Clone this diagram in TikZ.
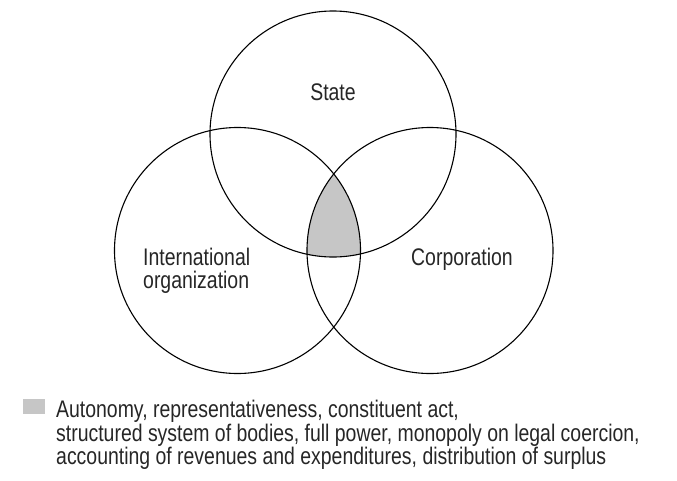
\documentclass[tikz,border=0pt]{standalone}
\usepackage{fontspec}
\setmainfont[FakeStretch=0.81]{Liberation Sans}
\begin{document}
\begin{tikzpicture}[x=1pt,y=-1pt,
  ring/.style={circle,draw=black,line width=1.1pt,minimum size=246pt,inner sep=0pt},
  lbl/.style={font=\fontsize{24}{23.5}\selectfont,inner sep=0pt,text=black!85},
  shade/.style={fill={rgb,255:red,198;green,198;blue,198}}]
\useasboundingbox (0,0) rectangle (677,480);
\coordinate (cS) at (333,134);
\coordinate (cI) at (237.5,250.5);
\coordinate (cC) at (430,250.5);
% shaded common region
\begin{scope}
  \clip (cS) circle (123);
  \clip (cI) circle (123);
  \fill[shade] (cC) circle (123);
\end{scope}
\node[ring] (state) at (cS) {};
\node[ring] (io) at (cI) {};
\node[ring] (corp) at (cC) {};
\node[lbl,anchor=base] (tstate) at (333,100.5) {State};
\node[lbl,anchor=base west] (tio1) at (143,265) {International};
\node[lbl,anchor=base west] (tio2) at (143,288) {organization};
\node[lbl,anchor=base west] (tcorp) at (411,265) {Corporation};
% legend
\node[shade,inner sep=0pt,minimum width=22pt,minimum height=15pt,anchor=north west] (key) at (22.5,399) {};
\node[lbl,anchor=base west] (leg1) at (56,417.5) {Autonomy, representativeness, constituent act,};
\node[lbl,anchor=base west] (leg2) at (56,441) {structured system of bodies, full power, monopoly on legal coercion,};
\node[lbl,anchor=base west] (leg3) at (56,464.5) {accounting of revenues and expenditures, distribution of surplus};
\end{tikzpicture}
\end{document}
